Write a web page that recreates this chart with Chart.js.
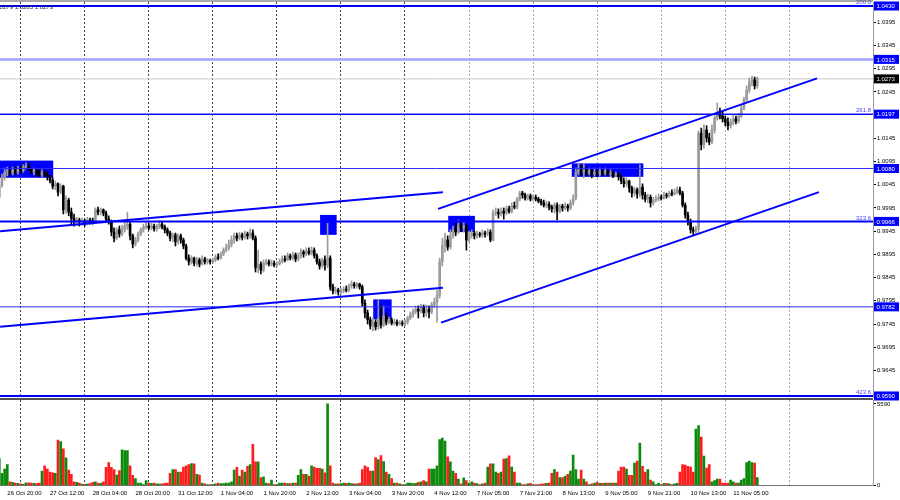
<!DOCTYPE html>
<html><head><meta charset="utf-8">
<script src="https://cdn.jsdelivr.net/npm/chart.js@4.4.0/dist/chart.umd.min.js"></script>
<style>
html,body{margin:0;padding:0;background:#fff;width:900px;height:500px;overflow:hidden}
canvas{position:absolute;left:0}
#main{top:0}
#vol{top:398px}
</style></head><body>
<canvas id="main" width="900" height="402"></canvas>
<canvas id="vol" width="900" height="102"></canvas>
<script>
// ---- DATA (EURUSD H1) ----
const FIRST_BAR = -3; // bar index of first candle; bar 0 = 26 Oct 20:00
const opens = [1.0018,1.0044,1.0060,1.0072,1.0075,1.0070,1.0077,1.0072,1.0079,1.0075,
1.0083,1.0085,1.0079,1.0072,1.0077,1.0070,1.0066,1.0072,1.0068,1.0062,
1.0055,1.0042,1.0047,1.0029,1.0042,0.9991,1.0012,0.9986,0.9973,0.9965,
0.9969,0.9965,0.9967,0.9962,0.9969,0.9967,0.9965,0.9991,0.9986,0.9991,
0.9984,0.9971,0.9965,0.9943,0.9930,0.9948,0.9939,0.9950,0.9956,0.9960,
0.9935,0.9917,0.9926,0.9939,0.9948,0.9954,0.9956,0.9952,0.9956,0.9950,
0.9954,0.9960,0.9954,0.9948,0.9941,0.9930,0.9937,0.9922,0.9935,0.9926,
0.9913,0.9887,0.9879,0.9887,0.9876,0.9883,0.9874,0.9885,0.9879,0.9881,
0.9879,0.9883,0.9889,0.9887,0.9896,0.9904,0.9909,0.9917,0.9926,0.9935,
0.9930,0.9937,0.9932,0.9939,0.9935,0.9941,0.9930,0.9866,0.9874,0.9861,
0.9876,0.9879,0.9874,0.9876,0.9872,0.9874,0.9879,0.9885,0.9883,0.9892,
0.9887,0.9894,0.9885,0.9892,0.9900,0.9896,0.9902,0.9898,0.9904,0.9892,
0.9879,0.9870,0.9883,0.9872,0.9887,0.9825,0.9816,0.9818,0.9814,0.9816,
0.9820,0.9818,0.9827,0.9831,0.9827,0.9831,0.9825,0.9790,0.9769,0.9754,
0.9741,0.9749,0.9739,0.9758,0.9743,0.9762,0.9749,0.9754,0.9747,0.9749,
0.9745,0.9747,0.9745,0.9749,0.9758,0.9765,0.9771,0.9777,0.9773,0.9782,
0.9769,0.9777,0.9771,0.9786,0.9792,0.9807,0.9879,0.9915,0.9926,0.9911,
0.9935,0.9948,0.9943,0.9958,0.9952,0.9956,0.9926,0.9935,0.9941,0.9935,
0.9939,0.9937,0.9941,0.9939,0.9943,0.9926,0.9984,0.9986,0.9982,0.9988,
0.9984,0.9993,0.9988,0.9999,0.9997,1.0014,1.0027,1.0023,1.0016,1.0021,
1.0014,1.0018,1.0014,1.0010,1.0006,1.0001,1.0003,0.9997,0.9993,1.0001,
0.9988,0.9999,0.9995,0.9999,0.9995,1.0006,1.0016,1.0072,1.0081,1.0072,
1.0077,1.0070,1.0075,1.0068,1.0072,1.0068,1.0075,1.0070,1.0075,1.0068,
1.0070,1.0066,1.0068,1.0062,1.0053,1.0047,1.0053,1.0038,1.0027,1.0034,
1.0025,1.0040,1.0023,1.0014,1.0018,1.0006,1.0012,1.0014,1.0018,1.0016,
1.0023,1.0021,1.0027,1.0025,1.0029,1.0034,1.0027,1.0001,0.9980,0.9965,
0.9948,0.9945,0.9950,1.0156,1.0131,1.0163,1.0146,1.0137,1.0163,1.0189,
1.0202,1.0193,1.0187,1.0180,1.0172,1.0180,1.0187,1.0182,1.0193,1.0210,
1.0228,1.0249,1.0266,1.0271,1.0258];
const highs = [1.0049,1.0068,1.0081,1.0083,1.0081,1.0083,1.0083,1.0085,1.0085,1.0088,
1.0092,1.0092,1.0081,1.0081,1.0079,1.0077,1.0077,1.0077,1.0072,1.0066,
1.0060,1.0053,1.0049,1.0047,1.0044,1.0021,1.0016,0.9995,0.9982,0.9975,
0.9973,0.9973,0.9971,0.9975,0.9973,0.9973,0.9995,0.9997,0.9995,0.9993,
0.9988,0.9978,0.9969,0.9952,0.9952,0.9956,0.9958,0.9969,0.9986,0.9965,
0.9939,0.9932,0.9943,0.9952,0.9960,0.9965,0.9962,0.9962,0.9960,0.9960,
0.9967,0.9965,0.9958,0.9952,0.9945,0.9941,0.9941,0.9939,0.9939,0.9930,
0.9917,0.9894,0.9892,0.9889,0.9889,0.9887,0.9892,0.9889,0.9887,0.9885,
0.9887,0.9894,0.9896,0.9900,0.9909,0.9917,0.9926,0.9935,0.9941,0.9941,
0.9943,0.9941,0.9945,0.9943,0.9950,0.9948,0.9935,0.9904,0.9879,0.9883,
0.9885,0.9883,0.9883,0.9881,0.9879,0.9885,0.9892,0.9892,0.9898,0.9896,
0.9900,0.9898,0.9898,0.9907,0.9904,0.9909,0.9909,0.9911,0.9909,0.9896,
0.9885,0.9887,0.9892,0.9962,0.9892,0.9831,0.9825,0.9822,0.9822,0.9825,
0.9827,0.9831,0.9838,0.9835,0.9835,0.9833,0.9829,0.9797,0.9775,0.9760,
0.9758,0.9754,0.9797,0.9786,0.9784,0.9769,0.9760,0.9758,0.9756,0.9754,
0.9752,0.9752,0.9754,0.9762,0.9771,0.9777,0.9784,0.9784,0.9788,0.9786,
0.9786,0.9784,0.9792,0.9801,0.9818,0.9887,0.9930,0.9941,0.9935,0.9948,
0.9956,0.9962,0.9969,0.9967,0.9965,0.9960,0.9945,0.9948,0.9945,0.9945,
0.9943,0.9948,0.9945,0.9950,0.9948,0.9991,0.9995,0.9993,0.9995,0.9995,
0.9999,0.9999,1.0006,1.0008,1.0018,1.0031,1.0031,1.0027,1.0025,1.0025,
1.0023,1.0023,1.0018,1.0014,1.0012,1.0010,1.0008,1.0001,1.0006,1.0006,
1.0003,1.0003,1.0006,1.0003,1.0012,1.0023,1.0081,1.0092,1.0088,1.0090,
1.0083,1.0081,1.0079,1.0081,1.0077,1.0081,1.0077,1.0081,1.0077,1.0077,
1.0075,1.0072,1.0072,1.0066,1.0060,1.0060,1.0055,1.0042,1.0040,1.0038,
1.0088,1.0047,1.0029,1.0025,1.0023,1.0018,1.0021,1.0025,1.0023,1.0029,
1.0027,1.0031,1.0034,1.0036,1.0040,1.0040,1.0031,1.0006,0.9986,0.9971,
0.9954,0.9956,1.0161,1.0167,1.0174,1.0172,1.0156,1.0174,1.0197,1.0221,
1.0210,1.0204,1.0193,1.0189,1.0187,1.0195,1.0193,1.0199,1.0217,1.0234,
1.0258,1.0275,1.0279,1.0277,1.0277];
const lows = [1.0014,1.0040,1.0055,1.0064,1.0064,1.0066,1.0068,1.0068,1.0070,1.0072,
1.0079,1.0075,1.0068,1.0066,1.0064,1.0062,1.0062,1.0064,1.0055,1.0049,
1.0036,1.0034,1.0021,1.0025,0.9982,0.9984,0.9978,0.9960,0.9956,0.9958,
0.9956,0.9958,0.9956,0.9958,0.9960,0.9960,0.9962,0.9980,0.9980,0.9978,
0.9967,0.9960,0.9935,0.9922,0.9926,0.9932,0.9935,0.9943,0.9948,0.9926,
0.9909,0.9913,0.9922,0.9935,0.9943,0.9950,0.9948,0.9948,0.9945,0.9945,
0.9950,0.9950,0.9941,0.9935,0.9924,0.9922,0.9913,0.9917,0.9919,0.9907,
0.9883,0.9872,0.9874,0.9870,0.9870,0.9868,0.9872,0.9874,0.9874,0.9874,
0.9876,0.9879,0.9883,0.9885,0.9892,0.9900,0.9904,0.9911,0.9919,0.9924,
0.9926,0.9926,0.9928,0.9928,0.9930,0.9926,0.9857,0.9855,0.9853,0.9857,
0.9872,0.9870,0.9870,0.9868,0.9868,0.9872,0.9876,0.9879,0.9881,0.9883,
0.9883,0.9879,0.9881,0.9887,0.9889,0.9892,0.9894,0.9894,0.9887,0.9874,
0.9863,0.9866,0.9861,0.9866,0.9818,0.9810,0.9810,0.9807,0.9810,0.9812,
0.9814,0.9814,0.9822,0.9822,0.9822,0.9820,0.9784,0.9758,0.9745,0.9734,
0.9730,0.9732,0.9734,0.9736,0.9739,0.9743,0.9745,0.9743,0.9743,0.9741,
0.9743,0.9741,0.9741,0.9745,0.9754,0.9760,0.9767,0.9758,0.9769,0.9760,
0.9762,0.9758,0.9767,0.9780,0.9749,0.9801,0.9870,0.9900,0.9904,0.9907,
0.9930,0.9935,0.9939,0.9945,0.9943,0.9904,0.9922,0.9930,0.9928,0.9930,
0.9932,0.9932,0.9932,0.9935,0.9922,0.9924,0.9978,0.9973,0.9978,0.9971,
0.9980,0.9984,0.9984,0.9993,0.9993,1.0010,1.0016,1.0012,1.0012,1.0010,
1.0010,1.0010,1.0006,1.0001,0.9997,0.9995,0.9991,0.9986,0.9984,0.9969,
0.9984,0.9988,0.9991,0.9988,0.9991,1.0001,1.0012,1.0066,1.0064,1.0060,
1.0064,1.0066,1.0060,1.0064,1.0062,1.0064,1.0064,1.0066,1.0064,1.0062,
1.0060,1.0062,1.0055,1.0047,1.0040,1.0042,1.0029,1.0018,1.0021,1.0016,
1.0018,1.0014,1.0008,1.0006,0.9997,1.0001,1.0008,1.0010,1.0012,1.0014,
1.0016,1.0018,1.0021,1.0023,1.0025,1.0023,0.9997,0.9973,0.9958,0.9941,
0.9935,0.9937,0.9939,1.0120,1.0124,1.0137,1.0131,1.0133,1.0156,1.0184,
1.0187,1.0180,1.0172,1.0163,1.0167,1.0174,1.0176,1.0178,1.0189,1.0206,
1.0223,1.0243,1.0258,1.0251,1.0253];
const closes = [1.0044,1.0060,1.0072,1.0075,1.0070,1.0077,1.0072,1.0079,1.0075,1.0083,
1.0085,1.0079,1.0072,1.0077,1.0070,1.0066,1.0072,1.0068,1.0062,1.0055,
1.0042,1.0047,1.0029,1.0042,0.9991,1.0012,0.9986,0.9973,0.9965,0.9969,
0.9965,0.9967,0.9962,0.9969,0.9967,0.9965,0.9991,0.9986,0.9991,0.9984,
0.9971,0.9965,0.9943,0.9930,0.9948,0.9939,0.9950,0.9956,0.9960,0.9935,
0.9917,0.9926,0.9939,0.9948,0.9954,0.9956,0.9952,0.9956,0.9950,0.9954,
0.9960,0.9954,0.9948,0.9941,0.9930,0.9937,0.9922,0.9935,0.9926,0.9913,
0.9887,0.9879,0.9887,0.9876,0.9883,0.9874,0.9885,0.9879,0.9881,0.9879,
0.9883,0.9889,0.9887,0.9896,0.9904,0.9909,0.9917,0.9926,0.9935,0.9930,
0.9937,0.9932,0.9939,0.9935,0.9941,0.9930,0.9866,0.9874,0.9861,0.9876,
0.9879,0.9874,0.9876,0.9872,0.9874,0.9879,0.9885,0.9883,0.9892,0.9887,
0.9894,0.9885,0.9892,0.9900,0.9896,0.9902,0.9898,0.9904,0.9892,0.9879,
0.9870,0.9883,0.9872,0.9887,0.9825,0.9816,0.9818,0.9814,0.9816,0.9820,
0.9818,0.9827,0.9831,0.9827,0.9831,0.9825,0.9790,0.9769,0.9754,0.9741,
0.9749,0.9739,0.9758,0.9743,0.9762,0.9749,0.9754,0.9747,0.9749,0.9745,
0.9747,0.9745,0.9749,0.9758,0.9765,0.9771,0.9777,0.9773,0.9782,0.9769,
0.9777,0.9771,0.9786,0.9792,0.9807,0.9879,0.9915,0.9926,0.9911,0.9935,
0.9948,0.9943,0.9958,0.9952,0.9956,0.9926,0.9935,0.9941,0.9935,0.9939,
0.9937,0.9941,0.9939,0.9943,0.9926,0.9984,0.9986,0.9982,0.9988,0.9984,
0.9993,0.9988,0.9999,0.9997,1.0014,1.0027,1.0023,1.0016,1.0021,1.0014,
1.0018,1.0014,1.0010,1.0006,1.0001,1.0003,0.9997,0.9993,1.0001,0.9988,
0.9999,0.9995,0.9999,0.9995,1.0006,1.0016,1.0072,1.0081,1.0072,1.0077,
1.0070,1.0075,1.0068,1.0072,1.0068,1.0075,1.0070,1.0075,1.0068,1.0070,
1.0066,1.0068,1.0062,1.0053,1.0047,1.0053,1.0038,1.0027,1.0034,1.0025,
1.0040,1.0023,1.0014,1.0018,1.0006,1.0012,1.0014,1.0018,1.0016,1.0023,
1.0021,1.0027,1.0025,1.0029,1.0034,1.0027,1.0001,0.9980,0.9965,0.9948,
0.9945,0.9950,1.0156,1.0131,1.0163,1.0146,1.0137,1.0163,1.0189,1.0202,
1.0193,1.0187,1.0180,1.0172,1.0180,1.0187,1.0182,1.0193,1.0210,1.0228,
1.0249,1.0266,1.0271,1.0258,1.0273];
const volumes = [1850,830,1130,1440,260,220,170,150,110,80,
190,190,170,150,140,170,980,1350,1130,920,
870,830,3120,3010,2510,1900,1050,760,260,220,
170,100,80,100,140,220,260,170,150,260,
1240,1570,1240,1090,720,1030,2440,2400,2400,1350,
700,480,170,170,60,330,170,150,170,110,
100,110,150,170,830,1090,1090,920,920,1270,
1350,1440,1500,1480,760,720,170,110,60,60,
60,110,170,140,140,170,170,260,1050,1240,
650,1050,920,1310,1440,2830,1620,1620,540,600,
170,140,370,60,60,170,170,170,140,140,
170,170,700,1090,760,760,650,1350,1270,1180,
1180,1130,870,5590,1350,170,100,110,140,170,
150,170,140,110,110,170,1090,1350,1240,980,
980,1920,1770,2050,1640,920,760,480,170,170,
110,60,60,170,170,140,150,220,260,330,
260,1130,1130,1130,1350,3140,3250,3050,1960,1620,
980,830,440,110,520,330,170,260,170,140,
60,110,170,1270,1480,1480,920,830,920,1810,
1850,2030,1270,920,170,170,60,60,110,150,
60,60,60,100,110,150,170,830,1090,920,
540,540,650,760,980,2090,1090,440,1050,440,
260,60,110,170,220,150,150,170,170,170,
170,170,980,1270,1270,1130,700,700,1530,1680,
2900,1310,920,1090,370,260,60,170,60,150,
150,110,60,110,150,920,1440,1400,1310,1270,
920,3860,4100,3320,2010,1200,1440,260,330,440,
440,170,170,170,370,260,170,170,370,480,
1570,1680,1570,1530,540];

const timeLabels = ['26 Oct 20:00','27 Oct 12:00','28 Oct 04:00','28 Oct 20:00','31 Oct 12:00','1 Nov 04:00','1 Nov 20:00','2 Nov 12:00','3 Nov 04:00','3 Nov 20:00','4 Nov 12:00','7 Nov 05:00','7 Nov 21:00','8 Nov 13:00','9 Nov 05:00','9 Nov 21:00','10 Nov 13:00','11 Nov 05:00'];
const labelBars = [0,16,32,48,64,80,96,112,128,144,160,176,192,208,224,240,256,272];
const gridBars = [5,29,53,77,101,125,149,173,197,221,245,269,293];
const priceTicks = [0.9645,0.9695,0.9745,0.9795,0.9845,0.9895,0.9945,0.9995,1.0045,1.0095,1.0145,1.0195,1.0245,1.0295,1.0345,1.0395];
const volTicks = [0, 5590];
const levels = [1.0430,1.0315,1.0197,1.0080,0.9966,0.9782,0.9590];
const levelFib = ['200.0','','261.8','','323.6','','423.6'];
const bidPrice = 1.0273;
const headerText = '1.0279 1.0285 1.0273';
// trend lines: bar index and price at both ends
const trendX0 = [-2.7, -2.7, 161.4, 162.5];
const trendP0 = [0.9945, 0.9739, 0.9993, 0.9748];
const trendX1 = [163.2, 163.2, 303.4, 304.1];
const trendP1 = [1.0029, 0.9823, 1.0274, 1.0029];
// rectangles: bar index range and price range
const boxX0 = [-2.735, 117.2, 137.1, 165.2, 211.5];
const boxX1 = [17.2, 123.4, 144.0, 175.2, 238.3];
const boxTop = [1.0097, 0.9980, 0.9798, 0.9978, 1.0091];
const boxBottom = [1.0060, 0.9937, 0.9755, 0.9943, 1.0062];

// ---- RENDERING ----
const X_MIN = -2.735, X_MAX = 324.35;
const Y_MIN = 0.95878, Y_MAX = 1.04386;
const FAM = '"Liberation Sans", Arial, sans-serif';
Chart.defaults.font.family = FAM;
Chart.defaults.font.size = 6;
Chart.defaults.color = '#000';

const bars = closes.map((_, k) => FIRST_BAR + k);
const isUp = closes.map((c, k) => c >= opens[k]);
const candleColors = isUp.map(u => u ? '#9b9b9b' : '#000000');
const levelStyles = [{c:'#0000ff',w:2},{c:'#a3a3ff',w:2.5},{c:'#0a0aff',w:1.5},{c:'#2a2aff',w:1},{c:'#0000ff',w:2},{c:'#2a2aff',w:1},{c:'#0000ff',w:2}];
const gridColor = ctx => (ctx.tick && ctx.tick.value < 160) ? '#404040' : '#a8a8a8';

const ds = [];
ds.push({type:'line', data:[{x:X_MIN,y:bidPrice},{x:X_MAX,y:bidPrice}], borderColor:'#c8c8c8', borderWidth:1, pointRadius:0, order:10});
ds.push({type:'bar', data:bars.map((b,k)=>({x:b,y:[lows[k],highs[k]]})), backgroundColor:candleColors, borderWidth:0, barThickness:1, grouped:false, order:9});
ds.push({type:'bar', data:bars.map((b,k)=>({x:b,y:[Math.min(opens[k],closes[k]),Math.max(opens[k],closes[k])]})), backgroundColor:candleColors, borderWidth:0, barThickness:2, minBarLength:1, grouped:false, order:8});
levels.forEach((p,k)=>ds.push({type:'line', data:[{x:X_MIN,y:p},{x:X_MAX,y:p}], borderColor:levelStyles[k].c, borderWidth:levelStyles[k].w, pointRadius:0, order:2}));
trendX0.forEach((x0,k)=>ds.push({type:'line', data:[{x:x0,y:trendP0[k]},{x:trendX1[k],y:trendP1[k]}], borderColor:'#0000ff', borderWidth:2, pointRadius:0, order:1}));

const mainOverlay = {
  id:'mainOverlay',
  beforeDatasetsDraw(chart){
    const {ctx, chartArea:a, scales:{x,y}} = chart;
    ctx.save();
    ctx.beginPath(); ctx.rect(a.left,a.top,a.right-a.left,a.bottom-a.top); ctx.clip();
    ctx.fillStyle = '#0000ff';
    for (let k=0;k<boxX0.length;k++){
      const x0=x.getPixelForValue(boxX0[k]), x1=x.getPixelForValue(boxX1[k]);
      const y0=y.getPixelForValue(boxTop[k]), y1=y.getPixelForValue(boxBottom[k]);
      ctx.fillRect(x0,y0,x1-x0,y1-y0);
    }
    ctx.restore();
  },
  afterDraw(chart){
    const {ctx, chartArea:a, scales:{y}} = chart;
    ctx.save();
    ctx.font = '6px ' + FAM;
    ctx.textAlign='right'; ctx.textBaseline='bottom'; ctx.fillStyle='#4646ff';
    levels.forEach((p,k)=>{ if(levelFib[k]) ctx.fillText(levelFib[k], a.right-2, y.getPixelForValue(p)-0.5); });
    ctx.textAlign='left'; ctx.textBaseline='middle';
    levels.forEach(p=>{ const py=y.getPixelForValue(p); ctx.fillStyle='#0000ff'; ctx.fillRect(a.right+1,py-4.5,25,9); ctx.fillStyle='#fff'; ctx.fillText(p.toFixed(4), a.right+3.5, py+0.5); });
    const by=y.getPixelForValue(bidPrice);
    ctx.fillStyle='#000'; ctx.fillRect(a.right+1,by-4.5,25,9); ctx.fillStyle='#fff'; ctx.fillText(bidPrice.toFixed(4), a.right+3.5, by+0.5);
    ctx.textAlign='right'; ctx.fillStyle='#22224a'; ctx.fillText(headerText, 53, 7.5);
    ctx.fillStyle='#555'; ctx.fillRect(0,0.5,a.right,1);
    ctx.restore();
  }
};

new Chart(document.getElementById('main'), {
  type:'bar',
  data:{datasets:ds},
  options:{
    responsive:false, animation:false, events:[], devicePixelRatio:1,
    layout:{padding:{top:2,bottom:5,left:0,right:0}},
    plugins:{legend:{display:false}, tooltip:{enabled:false}},
    scales:{
      x:{type:'linear', min:X_MIN, max:X_MAX, position:'bottom', offset:false,
         grid:{display:true, offset:false, drawTicks:false, color:gridColor, lineWidth:1},
         border:{display:false, dash:[2,2]},
         ticks:{display:false},
         afterBuildTicks:s=>{ s.ticks = gridBars.map(v=>({value:v})); },
         afterFit:s=>{ s.height=0; s.paddingLeft=0; s.paddingRight=0; }},
      y:{type:'linear', position:'right', min:Y_MIN, max:Y_MAX,
         grid:{display:true, drawOnChartArea:false, drawTicks:true, tickLength:3, color:'#000'},
         border:{display:true, color:'#9a9a9a', width:1},
         ticks:{autoSkip:false, padding:1, callback:v=>v.toFixed(4)},
         afterBuildTicks:s=>{ s.ticks = priceTicks.map(v=>({value:v})); },
         afterFit:s=>{ s.width=27; s.paddingTop=0; s.paddingBottom=0; }}
    }
  },
  plugins:[mainOverlay]
});

const volOverlay = {
  id:'volOverlay',
  afterDraw(chart){
    const {ctx, chartArea:a} = chart;
    ctx.save();
    ctx.fillStyle='#555'; ctx.fillRect(0,0,a.right,2);
    ctx.restore();
  }
};

new Chart(document.getElementById('vol'), {
  type:'bar',
  data:{datasets:[{data:bars.map((b,k)=>({x:b,y:volumes[k]})), backgroundColor:isUp.map(u=>u?'#0b8a0b':'#ff1c1c'), borderWidth:0, barThickness:2, grouped:false}]},
  options:{
    responsive:false, animation:false, events:[], devicePixelRatio:1,
    layout:{padding:{top:2,bottom:0,left:0,right:0}},
    plugins:{legend:{display:false}, tooltip:{enabled:false}},
    scales:{
      x:{type:'linear', min:X_MIN, max:X_MAX, position:'bottom', offset:false,
         grid:{display:false, offset:false, drawTicks:false},
         border:{display:true, color:'#707070', width:1},
         ticks:{autoSkip:false, maxRotation:0, minRotation:0, align:'start', padding:4, callback:(v,i)=>timeLabels[i]},
         afterBuildTicks:s=>{ s.ticks = labelBars.map(v=>({value:v})); },
         afterFit:s=>{ s.height=14.5; s.paddingLeft=0; s.paddingRight=0; }},
      xg:{type:'linear', min:X_MIN, max:X_MAX, position:'bottom', offset:false,
         grid:{display:true, offset:false, drawTicks:false, color:gridColor, lineWidth:1},
         border:{display:false, dash:[2,2]},
         ticks:{display:false},
         afterBuildTicks:s=>{ s.ticks = gridBars.map(v=>({value:v})); },
         afterFit:s=>{ s.height=0; s.paddingLeft=0; s.paddingRight=0; }},
      y:{type:'linear', position:'right', min:0, max:5860,
         grid:{display:true, drawOnChartArea:false, drawTicks:true, tickLength:3, color:'#000'},
         border:{display:true, color:'#9a9a9a', width:1},
         ticks:{autoSkip:false, padding:1, callback:v=>String(v)},
         afterBuildTicks:s=>{ s.ticks = volTicks.map(v=>({value:v})); },
         afterFit:s=>{ s.width=27; s.paddingTop=0; s.paddingBottom=0; }}
    }
  },
  plugins:[volOverlay]
});
</script>
</body></html>
